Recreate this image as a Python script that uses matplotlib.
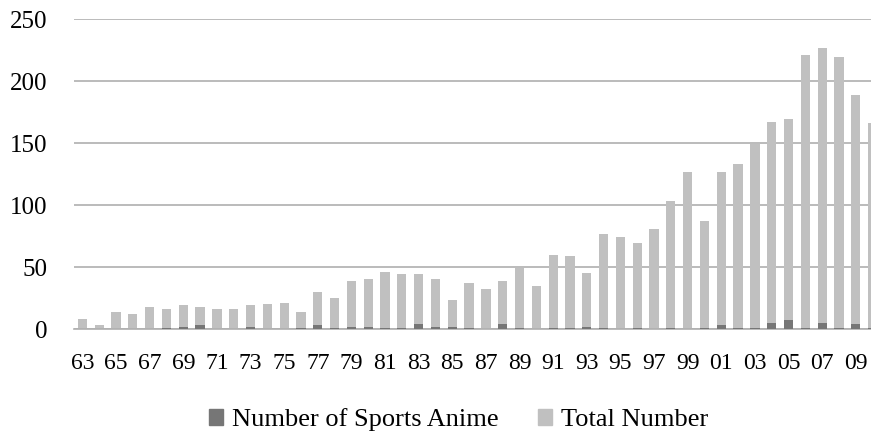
import matplotlib
matplotlib.use("Agg")
import matplotlib.pyplot as plt
import numpy as np
from matplotlib.patches import Patch

years = ["63","64","65","66","67","68","69","70","71","72","73","74","75","76","77","78",
         "79","80","81","82","83","84","85","86","87","88","89","90","91","92","93","94",
         "95","96","97","98","99","00","01","02","03","04","05","06","07","08","09","10"]
total = [8, 3, 14, 12, 18, 16, 19, 18, 16, 16, 19, 20, 21, 14, 30, 25,
         39, 40, 46, 44, 44, 40, 23, 37, 32, 39, 49, 35, 60, 59, 45, 77,
         74, 69, 81, 103, 127, 87, 127, 133, 149, 167, 169, 221, 227, 219, 189, 166]
sports = [0, 0, 0, 0, 0, 1, 2, 3, 0, 0, 2, 0, 0, 1, 3, 1,
          2, 2, 1, 1, 4, 2, 2, 1, 0, 4, 1, 0, 1, 1, 2, 1,
          0, 1, 0, 1, 0, 1, 3, 1, 1, 5, 7, 1, 5, 1, 4, 1]

plt.rcParams['font.family'] = ['Liberation Serif', 'DejaVu Serif']

fig = plt.figure(figsize=(8.71, 4.32), dpi=100)
W, H = 871, 432
ax = fig.add_axes([74 / W, 103 / H, (881 - 74) / W, 310 / H])

x = np.arange(len(years))
bw = 0.55
ax.bar(x, total, width=bw, color="#C0C0C0", zorder=2)
ax.bar(x, sports, width=bw, color="#767676", zorder=3)

ax.set_xlim(-0.5, len(years) - 0.5)
ax.set_ylim(0, 250)
ax.set_yticks(range(0, 251, 50))
ax.yaxis.grid(True, color="#AFAFAF", linewidth=1.2, zorder=0)
ax.set_axisbelow(True)

ax.set_xticks(x[::2])
ax.set_xticklabels(years[::2])
for s in ["top", "right", "left"]:
    ax.spines[s].set_visible(False)
ax.spines["bottom"].set_color("#AFAFAF")
ax.spines["bottom"].set_linewidth(1.2)
ax.tick_params(axis="x", length=0, pad=17, labelsize=17, colors="black")
ax.tick_params(axis="y", length=0, pad=19, labelsize=18, colors="black")

handles = [Patch(color="#767676"), Patch(color="#C0C0C0")]
fig.legend(handles, ["Number of Sports Anime", "Total Number"],
           loc="center", bbox_to_anchor=(459 / W, 1 - 420 / H), ncol=2, frameon=False,
           fontsize=19, handlelength=0.53, handleheight=0.53, handletextpad=0.34,
           columnspacing=1.5, borderpad=0)

fig.savefig("out.png", dpi=100)
